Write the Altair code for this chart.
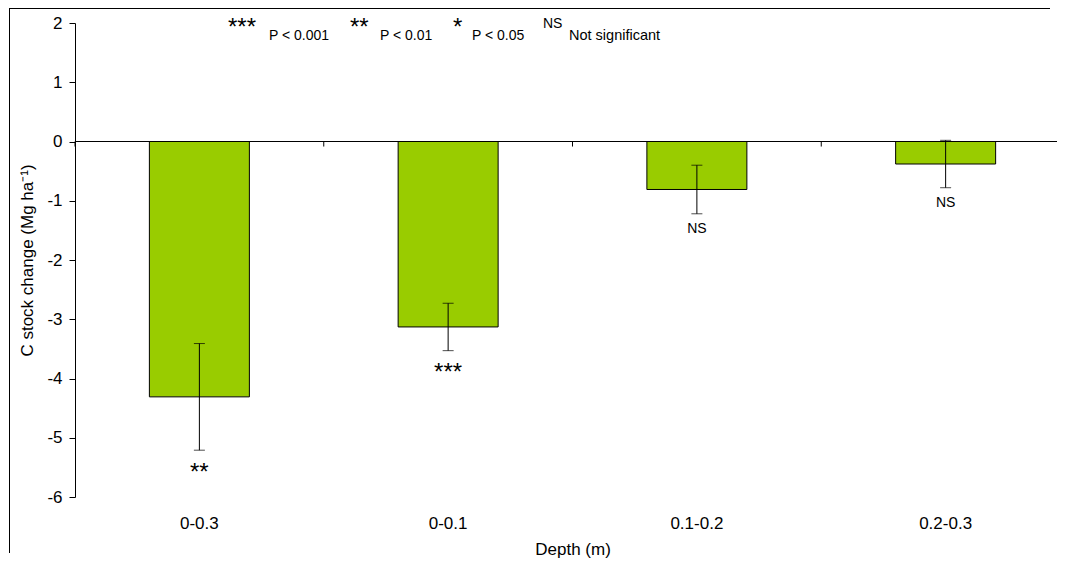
import altair as alt
import pandas as pd

# ---- data ----
depths = ["0-0.3", "0-0.1", "0.1-0.2", "0.2-0.3"]
change = [-4.31, -3.13, -0.81, -0.38]
se = [0.90, 0.40, 0.41, 0.40]
signif = ["**", "***", "NS", "NS"]

legend_symbols = ["***", "**", "*", "NS"]
legend_texts = ["P < 0.001", "P < 0.01", "P < 0.05", "Not significant"]

y_ticks = [-6, -5, -4, -3, -2, -1, 0, 1, 2]

df = pd.DataFrame({"depth": depths, "change": change, "se": se, "sig": signif})
df["low"] = df["change"] - df["se"]
df["high"] = df["change"] + df["se"]

FONT = "Liberation Sans"
W, H = 982, 474
PAD = {"left": 67, "top": 15, "right": 0, "bottom": 62}

xscale = alt.Scale(domain=depths, range=[0, 995], paddingInner=0, paddingOuter=0)
yscale = alt.Scale(domain=[-6, 2], nice=False, zero=False)

base = alt.Chart(df)

x_enc = alt.X(
    "depth:N", scale=xscale, sort=depths,
    axis=alt.Axis(title="Depth (m)", domain=False, ticks=False, tickSize=0,
                  labelAngle=0, labelPadding=18, titlePadding=10,
                  labelFontSize=17, titleFontSize=17, labelFont=FONT, titleFont=FONT,
                  labelColor="black", titleColor="black", titleFontWeight="normal"),
)
y_enc = alt.Y(
    "change:Q", scale=yscale,
    axis=alt.Axis(title="C stock change (Mg ha\u207b\u00b9)", values=y_ticks, grid=False,
                  labelExpr="'' + datum.value",
                  tickSize=6, labelPadding=7, titlePadding=10, domainColor="black",
                  tickColor="black", labelFontSize=17, titleFontSize=17,
                  labelFont=FONT, titleFont=FONT, labelColor="black",
                  titleColor="black", titleFontWeight="normal"),
)

bars = base.mark_bar(size=100, color="#99CC00", stroke="black", strokeWidth=1).encode(
    x=x_enc, y=y_enc, y2=alt.datum(0)
)

zero_line = base.mark_rule(color="black", strokeWidth=1).encode(
    y=alt.datum(0, scale=yscale), x=alt.value(0), x2=alt.value(1000)
)

bound_ticks = base.mark_rule(color="black", strokeWidth=1).encode(
    x=alt.X("depth:N", scale=xscale, sort=depths, bandPosition=0),
    y=alt.datum(0), y2=alt.datum(-0.085),
)

err = base.mark_rule(color="black", strokeWidth=1).encode(
    x=alt.X("depth:N", scale=xscale, sort=depths), y="low:Q", y2="high:Q"
)
cap_lo = base.mark_tick(color="black", size=11, thickness=1).encode(
    x=alt.X("depth:N", scale=xscale, sort=depths), y="low:Q"
)
cap_hi = base.mark_tick(color="black", size=11, thickness=1).encode(
    x=alt.X("depth:N", scale=xscale, sort=depths), y="high:Q"
)

stars = base.transform_filter(alt.datum.sig != "NS").mark_text(
    font=FONT, fontSize=24, baseline="alphabetic", dy=29.5, color="black"
).encode(x=alt.X("depth:N", scale=xscale, sort=depths), y="low:Q", text="sig:N")

ns = base.transform_filter(alt.datum.sig == "NS").mark_text(
    font=FONT, fontSize=14, baseline="alphabetic", dy=19, color="black"
).encode(x=alt.X("depth:N", scale=xscale, sort=depths), y="low:Q", text="sig:N")

one = pd.DataFrame({"k": [0]})
sym_x = [153, 275, 378, 468]
txt_x = [194, 305, 397, 494]
legend_layers = []
for i, (s, t) in enumerate(zip(legend_symbols, legend_texts)):
    is_star = s != "NS"
    legend_layers.append(
        alt.Chart(one).mark_text(
            font=FONT, fontSize=24 if is_star else 14, align="left",
            baseline="alphabetic", color="black"
        ).encode(x=alt.value(sym_x[i]), y=alt.value(12 if is_star else 5), text=alt.value(s))
    )
    legend_layers.append(
        alt.Chart(one).mark_text(
            font=FONT, fontSize=14.5 if t == "Not significant" else 14, align="left",
            baseline="alphabetic", color="black"
        ).encode(x=alt.value(txt_x[i]), y=alt.value(17), text=alt.value(t))
    )

# figure frame (left and top edges only are inside the picture), as thin filled rects
frame_left = alt.Chart(one).mark_rect(color="black", strokeWidth=0).encode(
    x=alt.value(-66), x2=alt.value(-65), y=alt.value(-15), y2=alt.value(530)
)
frame_top = alt.Chart(one).mark_rect(color="black", strokeWidth=0).encode(
    x=alt.value(-66), x2=alt.value(975), y=alt.value(-15), y2=alt.value(-14)
)

chart = alt.layer(
    frame_left, frame_top, bars, zero_line, bound_ticks, err, cap_lo, cap_hi,
    stars, ns, *legend_layers
).properties(
    width=W, height=H,
    autosize=alt.AutoSizeParams(type="none"),
    padding=PAD,
).configure_view(strokeWidth=0, strokeOpacity=0)

chart.save("out.html", embed_options={"renderer": "svg", "actions": False})
